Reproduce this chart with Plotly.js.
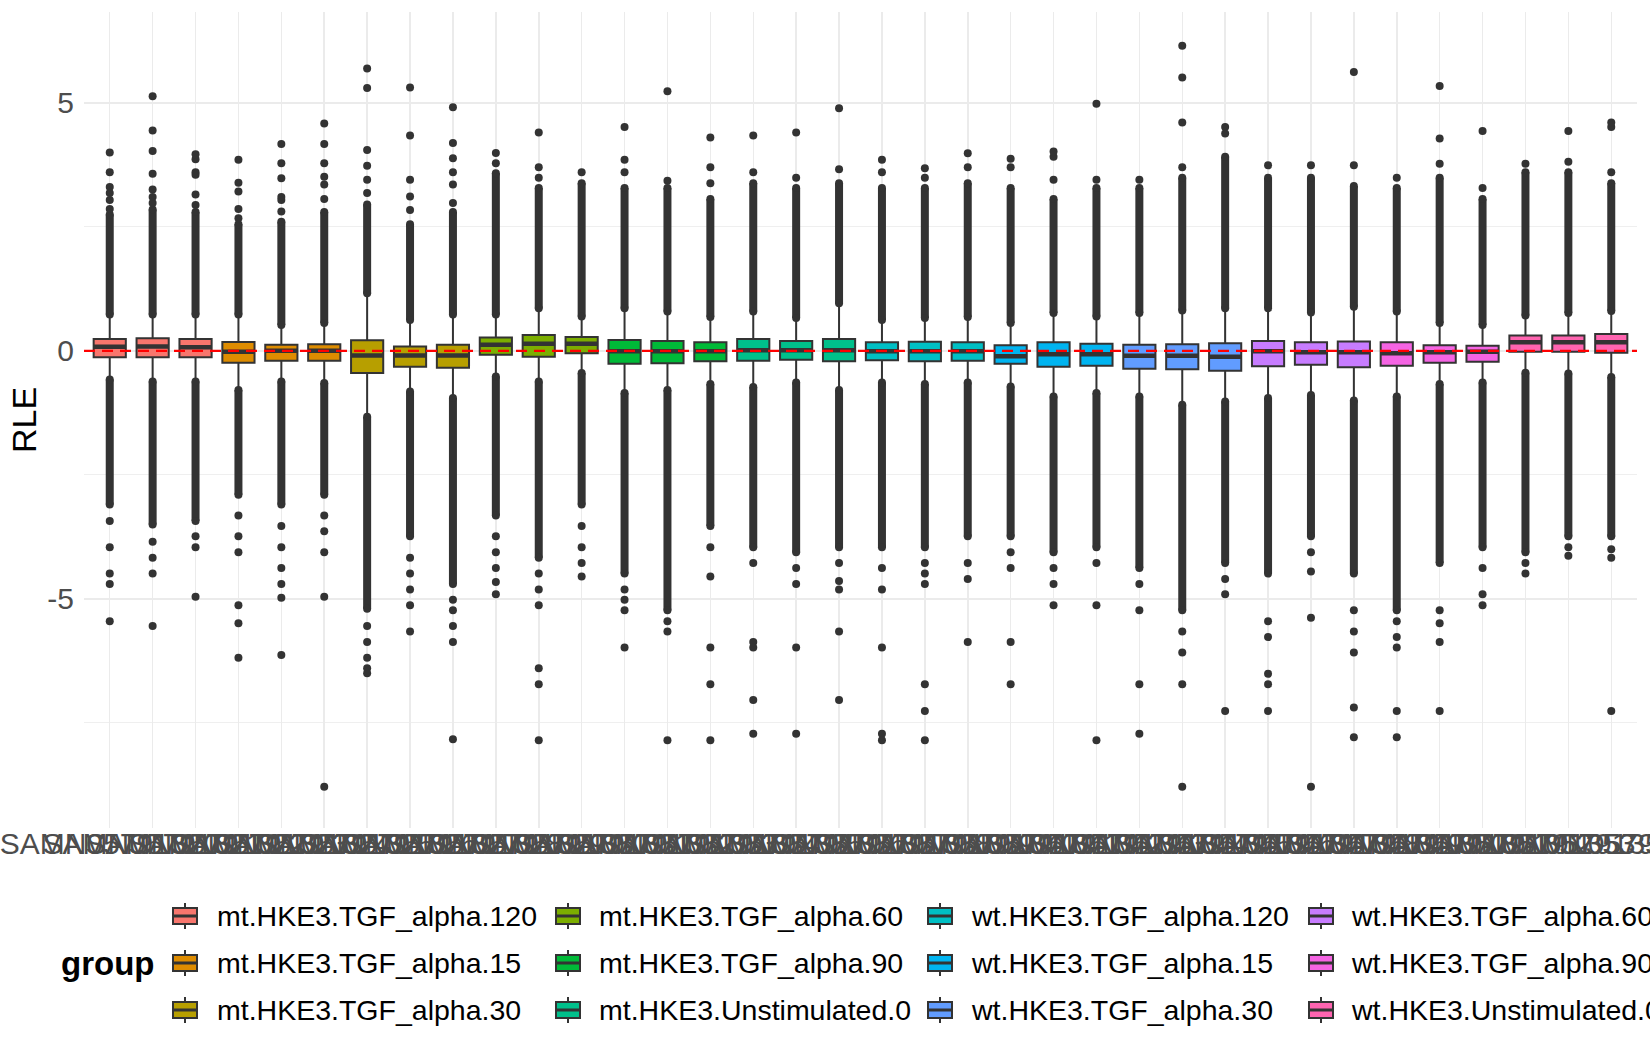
<!DOCTYPE html>
<html>
<head>
<meta charset="utf-8">
<script src="https://cdn.plot.ly/plotly-3.0.1.min.js"></script>
<style>
  body { margin: 0; background: #fff; }
  #myDiv { width: 1650px; height: 1050px; }
</style>
</head>
<body>
<div id="myDiv"></div>
<script>
// groups (legend order) and their ggplot hue colours
var groups = ['mt.HKE3.TGF_alpha.120', 'mt.HKE3.TGF_alpha.15', 'mt.HKE3.TGF_alpha.30',
              'mt.HKE3.TGF_alpha.60', 'mt.HKE3.TGF_alpha.90', 'mt.HKE3.Unstimulated.0',
              'wt.HKE3.TGF_alpha.120', 'wt.HKE3.TGF_alpha.15', 'wt.HKE3.TGF_alpha.30',
              'wt.HKE3.TGF_alpha.60', 'wt.HKE3.TGF_alpha.90', 'wt.HKE3.Unstimulated.0'];
var groupColors = ['#F8766D', '#DE8C00', '#B79F00', '#7CAE00', '#00BA38', '#00C08B',
                   '#00BFC4', '#00B4F0', '#619CFF', '#C77CFF', '#F564E3', '#FF64B0'];

// samples (x axis) and the group of each one
var samples = ['SAMN05791320', 'SAMN05791321', 'SAMN05791322', 'SAMN05791323', 'SAMN05791324', 'SAMN05791325',
               'SAMN05791326', 'SAMN05791327', 'SAMN05791328', 'SAMN05791329', 'SAMN05791330', 'SAMN05791331',
               'SAMN05791332', 'SAMN05791333', 'SAMN05791334', 'SAMN05791335', 'SAMN05791336', 'SAMN05791337',
               'SAMN05791338', 'SAMN05791339', 'SAMN05791340', 'SAMN05791341', 'SAMN05791342', 'SAMN05791343',
               'SAMN05791344', 'SAMN05791345', 'SAMN05791346', 'SAMN05791347', 'SAMN05791348', 'SAMN05791349',
               'SAMN05791350', 'SAMN05791351', 'SAMN05791352', 'SAMN05791353', 'SAMN05791354', 'SAMN05791355'];
var sampleGroup = [0,0,0, 1,1,1, 2,2,2, 3,3,3, 4,4,4, 5,5,5, 6,6,6, 7,7,7, 8,8,8, 9,9,9, 10,10,10, 11,11,11];

// box statistics (RLE)
var q1 = [-0.13, -0.13, -0.13, -0.24, -0.20, -0.20, -0.45, -0.32, -0.34, -0.08, -0.12, -0.05,
          -0.26, -0.25, -0.21, -0.20, -0.18, -0.21, -0.19, -0.21, -0.20, -0.26, -0.32, -0.30,
          -0.36, -0.37, -0.40, -0.31, -0.28, -0.33, -0.30, -0.24, -0.22, -0.02, -0.02, -0.04];
var med = [0.08, 0.087, 0.07, -0.02, 0.0, 0.0, -0.094, -0.094, -0.094, 0.12, 0.14, 0.14,
           -0.01, -0.01, -0.01, 0.01, 0.01, 0.01, -0.01, -0.01, -0.01, -0.11, -0.07, -0.07,
           -0.10, -0.10, -0.12, -0.01, -0.03, -0.03, -0.05, -0.03, -0.02, 0.17, 0.17, 0.17];
var q3 = [0.24, 0.255, 0.24, 0.175, 0.12, 0.13, 0.215, 0.087, 0.12, 0.27, 0.32, 0.28,
          0.22, 0.20, 0.17, 0.24, 0.20, 0.24, 0.17, 0.18, 0.17, 0.11, 0.17, 0.14,
          0.12, 0.13, 0.15, 0.20, 0.17, 0.19, 0.17, 0.11, 0.10, 0.31, 0.31, 0.34];
var whiskHi = [0.73, 0.73, 0.73, 0.73, 0.52, 0.56, 1.16, 0.62, 0.73, 0.73, 0.86, 0.69,
               0.86, 0.79, 0.68, 0.79, 0.66, 0.96, 0.62, 0.66, 0.68, 0.56, 0.76, 0.69,
               0.76, 0.81, 0.86, 0.86, 0.77, 0.89, 0.79, 0.56, 0.52, 0.71, 0.76, 0.80];
var whiskLo = [-0.58, -0.62, -0.62, -0.79, -0.62, -0.65, -1.33, -0.82, -0.95, -0.52, -0.62, -0.45,
               -0.85, -0.79, -0.67, -0.73, -0.64, -0.79, -0.64, -0.67, -0.64, -0.72, -0.92, -0.85,
               -0.92, -1.09, -1.02, -0.95, -0.89, -1.00, -0.92, -0.67, -0.64, -0.44, -0.46, -0.53];

// outliers: where the solid run of points ends, then the scattered ones
var denseHi = [2.75, 2.85, 2.8, 2.55, 2.6, 2.8, 2.95, 2.55, 2.8, 3.58, 3.28, 3.38,
               3.28, 3.28, 3.06, 3.38, 3.28, 3.38, 3.28, 3.28, 3.38, 3.28, 3.06, 3.28,
               3.28, 3.49, 3.91, 3.49, 3.49, 3.32, 3.28, 3.49, 3.06, 3.6, 3.6, 3.38];
var denseLo = [-3.1, -3.5, -3.43, -2.9, -3.1, -2.9, -5.2, -3.74, -4.7, -3.32, -4.17, -3.1,
               -4.49, -5.23, -3.53, -3.96, -4.06, -3.96, -3.96, -3.96, -3.74, -3.74, -4.06, -3.96,
               -4.38, -5.23, -4.28, -4.49, -3.74, -4.49, -5.23, -4.28, -3.96, -4.06, -3.74, -3.74];
var outHi = [
  [2.86, 3.04, 3.18, 3.3, 3.6, 4.0], [2.98, 3.1, 3.25, 3.57, 4.03, 4.44, 5.13], [2.94, 3.15, 3.55, 3.6, 3.86, 3.96],
  [2.67, 2.86, 3.21, 3.39, 3.85], [2.81, 3.04, 3.1, 3.48, 3.78, 4.17], [3.06, 3.35, 3.51, 3.78, 4.17, 4.58],
  [3.18, 3.45, 3.73, 4.05, 5.3, 5.69], [2.84, 3.11, 3.45, 4.34, 5.31], [2.98, 3.35, 3.6, 3.88, 4.19, 4.91],
  [3.78, 3.99], [3.49, 3.7, 4.4], [3.6],
  [3.6, 3.85, 4.51], [3.43, 5.23], [3.38, 3.7, 4.3],
  [3.6, 4.34], [3.49, 4.4], [3.66, 4.89],
  [3.6, 3.85], [3.49, 3.68], [3.7, 3.98],
  [3.7, 3.87], [3.45, 3.91, 4.02], [3.45, 4.98],
  [3.45], [3.7, 4.6, 5.51, 6.15], [4.38, 4.51],
  [3.74], [3.74], [3.74, 5.62],
  [3.49], [3.77, 4.28, 5.34], [3.28, 4.43],
  [3.77], [3.81, 4.43], [3.6, 4.51, 4.6]];
var outLo = [
  [-3.43, -3.96, -4.49, -4.7, -5.45], [-3.85, -4.17, -4.49, -5.55], [-3.74, -3.96, -4.96],
  [-3.32, -3.74, -4.06, -5.13, -5.49, -6.19], [-3.53, -3.96, -4.38, -4.7, -4.98, -6.13], [-3.32, -3.64, -4.06, -4.96, -8.79],
  [-5.55, -5.87, -6.19, -6.4, -6.5], [-4.17, -4.49, -4.81, -5.13, -5.66], [-5.02, -5.23, -5.55, -5.87, -7.83],
  [-3.74, -4.06, -4.38, -4.66, -4.91], [-4.49, -4.81, -5.13, -6.4, -6.72, -7.85], [-3.53, -3.96, -4.28, -4.55],
  [-4.81, -5.02, -5.23, -5.98], [-5.45, -5.66, -7.85], [-3.96, -4.55, -5.98, -6.72, -7.85],
  [-4.28, -5.87, -5.98, -7.04, -7.72], [-4.38, -4.7, -5.98, -7.72], [-4.28, -4.64, -4.81, -5.66, -7.04],
  [-4.38, -4.81, -5.98, -7.72, -7.85], [-4.28, -4.49, -4.7, -6.72, -7.26, -7.85], [-4.28, -4.6, -5.87],
  [-4.06, -4.38, -5.87, -6.72], [-4.38, -4.7, -5.13], [-4.28, -5.13, -7.85],
  [-4.7, -5.23, -6.72, -7.72], [-5.66, -6.08, -6.72, -8.79], [-4.6, -4.91, -7.26],
  [-5.45, -5.77, -6.51, -6.72, -7.26], [-4.06, -4.45, -5.38, -8.79], [-5.23, -5.66, -6.08, -7.19, -7.79],
  [-5.45, -5.77, -5.98, -7.26, -7.79], [-5.23, -5.49, -5.87, -7.26], [-4.38, -4.91, -5.13],
  [-4.28, -4.49], [-3.96, -4.13], [-4.0, -4.17, -7.26]];

// page geometry (px)
var W = 1650, H = 1050, ML = 84, MR = 13, MT = 12, MB = 222;
var PW = W - ML - MR, PH = H - MT - MB;
function paperX(p) { return (p - ML) / PW; }
function paperY(p) { return (H - MB - p) / PH; }

var dark = '#333333';
var fam = 'Liberation Sans, Arial, sans-serif';
var boxW = 0.75;
var traces = [];

// one box trace per group
groups.forEach(function (g, gi) {
  var idx = [];
  sampleGroup.forEach(function (s, i) { if (s === gi) idx.push(i); });
  traces.push({
    type: 'box',
    orientation: 'v',
    name: g,
    x: idx,
    q1: idx.map(function (i) { return q1[i]; }),
    median: idx.map(function (i) { return med[i]; }),
    q3: idx.map(function (i) { return q3[i]; }),
    lowerfence: idx.map(function (i) { return whiskLo[i]; }),
    upperfence: idx.map(function (i) { return whiskHi[i]; }),
    width: boxW,
    whiskerwidth: 0,
    boxpoints: false,
    fillcolor: groupColors[gi],
    line: { color: dark, width: 2 },
    hoverinfo: 'skip',
    showlegend: false
  });
});

// thick median bars like ggplot
var mx = [], my = [];
samples.forEach(function (s, i) {
  mx.push(i - boxW / 2, i + boxW / 2, null);
  my.push(med[i], med[i], null);
});
traces.push({ type: 'scatter', mode: 'lines', x: mx, y: my,
  line: { color: dark, width: 4.5 }, hoverinfo: 'skip', showlegend: false });

// solid runs of outliers
var dx = [], dy = [];
samples.forEach(function (s, i) {
  dx.push(i, i, null, i, i, null);
  dy.push(whiskHi[i], denseHi[i], null, whiskLo[i], denseLo[i], null);
});
traces.push({ type: 'scatter', mode: 'lines+markers', x: dx, y: dy,
  line: { color: dark, width: 8 }, marker: { color: dark, size: 8 },
  hoverinfo: 'skip', showlegend: false });

// scattered outliers
var ox = [], oy = [];
samples.forEach(function (s, i) {
  outHi[i].concat(outLo[i]).forEach(function (v) { ox.push(i); oy.push(v); });
});
traces.push({ type: 'scatter', mode: 'markers', x: ox, y: oy,
  marker: { color: dark, size: 8 }, hoverinfo: 'skip', showlegend: false });

// manual legend laid out like ggplot (3 rows x 4 columns, column-major)
var keyX = [185, 568, 940, 1321];
var textX = [215, 597, 969, 1349];
var rowY = [916, 963, 1010];
var shapes = [{
  type: 'line', xref: 'paper', yref: 'y', x0: 0, x1: 1, y0: 0, y1: 0,
  line: { color: '#FF0000', width: 2.2, dash: '11px,7px' }, layer: 'above'
}];
var annotations = [];
groups.forEach(function (g, gi) {
  var cx = keyX[Math.floor(gi / 3)], cy = rowY[gi % 3];
  var tx = textX[Math.floor(gi / 3)];
  shapes.push({ type: 'line', xref: 'paper', yref: 'paper',
    x0: paperX(cx), x1: paperX(cx), y0: paperY(cy - 13), y1: paperY(cy + 13),
    line: { color: dark, width: 2 } });
  shapes.push({ type: 'rect', xref: 'paper', yref: 'paper',
    x0: paperX(cx - 12), x1: paperX(cx + 12), y0: paperY(cy - 8), y1: paperY(cy + 8),
    fillcolor: groupColors[gi], line: { color: dark, width: 2 } });
  shapes.push({ type: 'line', xref: 'paper', yref: 'paper',
    x0: paperX(cx - 12), x1: paperX(cx + 12), y0: paperY(cy), y1: paperY(cy),
    line: { color: dark, width: 3 } });
  annotations.push({ xref: 'paper', yref: 'paper', x: paperX(tx), y: paperY(cy),
    xanchor: 'left', yanchor: 'middle', showarrow: false, text: g,
    font: { family: fam, size: 28.5, color: '#000000' } });
});
annotations.push({ xref: 'paper', yref: 'paper', x: paperX(156), y: paperY(rowY[1]),
  xanchor: 'right', yanchor: 'middle', showarrow: false, text: '<b>group</b>',
  font: { family: fam, size: 33, color: '#000000' } });
// y axis title, placed like ggplot's
annotations.push({ xref: 'paper', yref: 'paper', x: paperX(24), y: 0.5,
  xanchor: 'center', yanchor: 'middle', showarrow: false, text: 'RLE', textangle: -90,
  font: { family: fam, size: 34, color: '#000000' } });

var layout = {
  width: W, height: H,
  margin: { l: ML, r: MR, t: MT, b: MB },
  paper_bgcolor: '#ffffff', plot_bgcolor: '#ffffff',
  font: { family: fam, color: '#4D4D4D' },
  showlegend: false,
  xaxis: {
    range: [-0.6, samples.length - 0.4],
    tickmode: 'array',
    tickvals: samples.map(function (s, i) { return i; }),
    ticktext: samples,
    tickangle: 0,
    ticklabeloverflow: 'allow',
    tickfont: { size: 30, color: '#4D4D4D' },
    ticks: '', ticklen: 0, ticklabelstandoff: -5,
    showgrid: true, gridcolor: '#EBEBEB', gridwidth: 1.5,
    zeroline: false, showline: false
  },
  yaxis: {
    range: [-9.62, 6.83],
    tickmode: 'array',
    tickvals: [-5, 0, 5],
    ticktext: ['-5', '0', '5'],
    tickfont: { size: 30, color: '#4D4D4D' },
    ticks: '', ticklen: 0, ticklabelstandoff: 9,
    showgrid: true, gridcolor: '#EBEBEB', gridwidth: 1.5,
    minor: { tickvals: [-7.5, -2.5, 2.5], showgrid: true, gridcolor: '#EBEBEB', gridwidth: 0.8 },
    zeroline: false, showline: false
  },
  shapes: shapes,
  annotations: annotations
};

Plotly.newPlot('myDiv', traces, layout, { displayModeBar: false, staticPlot: true });
</script>
</body>
</html>
